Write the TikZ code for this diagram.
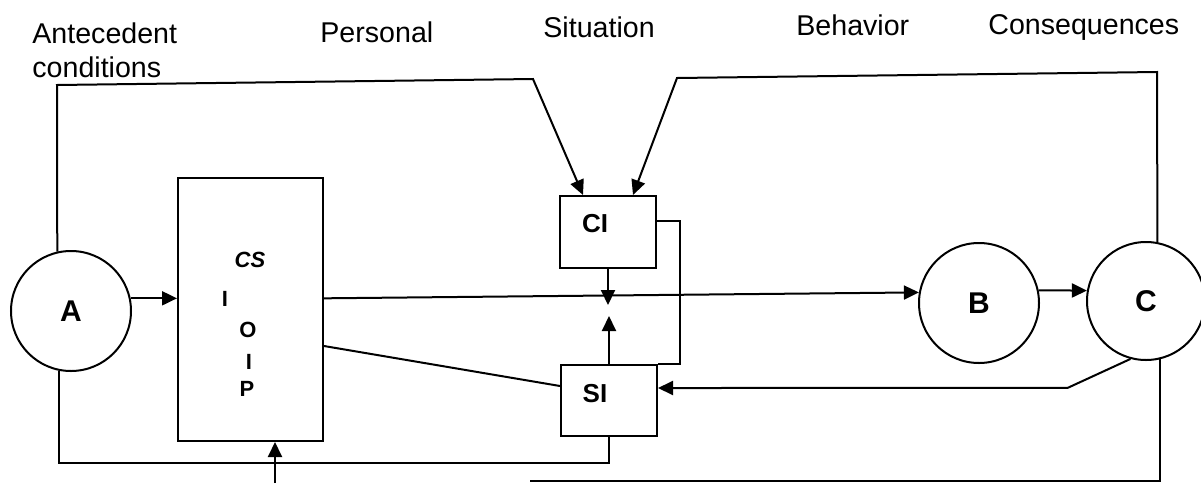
\documentclass[tikz,border=0pt]{standalone}
\usepackage{fontspec}
\setmainfont{Liberation Sans}
\usetikzlibrary{arrows.meta,positioning}
\tikzset{
	circ/.style   = {draw, circle, line width=1pt, inner sep=0pt, font=\fontsize{15}{17}\selectfont\bfseries},
	block/.style  = {draw, rectangle, line width=1pt, inner sep=0pt},
	head/.style   = {anchor=base west, inner sep=0pt, font=\fontsize{14.3}{17}\selectfont},
	bigtag/.style = {inner sep=0pt, font=\fontsize{13}{15}\selectfont\bfseries},
	tag/.style    = {inner sep=0pt, font=\fontsize{11}{13}\selectfont\bfseries},
	wire/.style   = {line width=1pt},
}

\begin{document}
\begin{tikzpicture}[x=0.5pt, y=-0.5pt, >={Triangle[length=7.5pt,width=7pt]}]
	\useasboundingbox (0,0) rectangle (1201,483);

	% Column headings
	\node[head] (ant)  at (32,43)  {Antecedent};
	\node[head] (cond) at (32,77)  {conditions};
	\node[head] (pers) at (320,42) {Personal};
	\node[head] (sit)  at (543,37) {Situation};
	\node[head] (beh)  at (796,35) {Behavior};
	\node[head] (cons) at (988,34) {Consequences};

	% Main nodes
	\node[circ, minimum size=60pt] (a) at (71,311)   {A};
	\node[circ, minimum size=60pt] (b) at (979,303)  {B};
	\node[circ, minimum size=59pt] (c) at (1146,301) {C};
	\node[block, minimum width=72.5pt, minimum height=131.5pt] (cs) at (250.5,309.5) {};
	\node[block, minimum width=48pt, minimum height=36pt,
		label={[bigtag, xshift=-6.5pt, yshift=4pt]center:CI}] (ci) at (608,232) {};
	\node[block, minimum width=48pt, minimum height=35.5pt,
		label={[bigtag, xshift=-7pt, yshift=3.25pt]center:SI}] (si) at (609,400.5) {};

	% Letters inside the CS block
	\node[tag, font=\fontsize{11}{13}\selectfont\bfseries\itshape] (cstag) at (250,260) {CS};
	\node[tag] (ione) at (225,299) {I};
	\node[tag] (oone) at (248,330) {O};
	\node[tag] (itwo) at (249,362) {I};
	\node[tag] (pone) at (247,389) {P};

	% Free ends
	\coordinate (cimeet) at ([yshift=-18pt]ci.south);
	\coordinate (simeet) at ([yshift=24pt]si.north);
	\coordinate (csin)   at (275,483);
	\coordinate (cout)   at (530,481);

	% Inputs to CI from the top
	\draw[wire, ->] (a.103) -- (57,85) -- (533,79) -- ([xshift=-12.5pt]ci.north);
	\draw[wire, ->] (c.79) -- (1157,72) -- (677,78) -- ([xshift=12.5pt]ci.north);

	% Main path
	\draw[wire, ->] (a.12) -- (a.12 -| cs.west);
	\draw[wire, ->] (a.12 -| cs.east) -- (b.170);
	\draw[wire, ->] (b.12) -- (c.170);

	% CI and SI onto the main path
	\draw[wire, ->] (ci.south) -- (cimeet);
	\draw[wire, ->] (si.north) -- (simeet);
	\draw[wire] ([yshift=5.5pt]ci.east) -- ++(23,0) |- (si.north east);

	% Links into SI
	\draw[wire] ([yshift=-18.25pt]cs.east) -- ([yshift=7.25pt]si.west);
	\draw[wire, ->] (c.255) -- ++(-63,29) -- ([yshift=6.25pt]si.east);
	\draw[wire] (a.259) |- ([yshift=-13pt]si.south) -- (si.south);

	% Bottom lines
	\draw[wire, ->] (csin) -- (csin |- cs.south);
	\draw[wire] (c.283) |- (cout);
\end{tikzpicture}
\end{document}
